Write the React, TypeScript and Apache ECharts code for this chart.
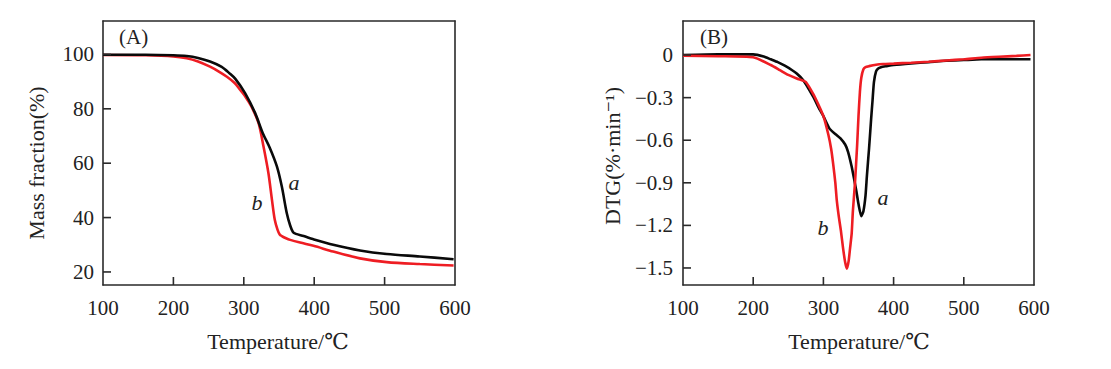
import React, { useEffect, useRef } from 'react';
import * as echarts from 'echarts';

// Panel A: TGA (mass fraction, %)
const tgaTempA = [100, 160, 200, 219, 235, 252, 268, 280, 288, 302, 316, 327, 337, 347, 354, 361, 366, 370, 374, 385, 398, 427, 465, 503, 550, 598];
const tgaMassA = [99.9, 99.9, 99.7, 99.4, 98.7, 97.4, 95.5, 93, 91, 85.7, 78.5, 71, 65.6, 58.8, 51.4, 41.7, 37, 34.6, 34.0, 33.2, 32.1, 30, 27.9, 26.6, 25.7, 24.7];
const tgaTempB = [100, 160, 200, 219, 235, 252, 264, 276, 287, 295, 303, 311, 321, 328, 335, 340, 344, 348, 351, 354, 360, 366, 380, 399, 427, 465, 503, 550, 598];
const tgaMassB = [99.8, 99.7, 99.3, 98.6, 97.4, 95.5, 93.8, 91.8, 89.5, 86.9, 84.2, 80.8, 74.7, 66.1, 56.3, 46.5, 39.2, 35.5, 33.8, 33.2, 32.4, 31.8, 30.8, 29.6, 27.5, 25, 23.6, 22.9, 22.4];

// Panel B: DTG (%·min⁻¹)
const dtgTempA = [100, 150, 200, 215, 225, 235, 245, 255, 262, 271, 285, 295, 300, 309, 318, 324, 331, 335, 340, 344, 347, 350, 354, 357, 360, 362, 365, 368, 370, 372, 375, 378, 382, 390, 400, 425, 450, 475, 500, 525, 550, 575, 595];
const dtgValA = [0, 0.005, 0.005, -0.01, -0.03, -0.05, -0.075, -0.105, -0.13, -0.176, -0.29, -0.387, -0.43, -0.52, -0.56, -0.585, -0.63, -0.68, -0.78, -0.88, -0.96, -1.05, -1.135, -1.10, -0.99, -0.85, -0.66, -0.45, -0.32, -0.19, -0.115, -0.095, -0.085, -0.078, -0.07, -0.059, -0.05, -0.04, -0.035, -0.03, -0.03, -0.03, -0.03];
const dtgTempB = [100, 150, 200, 225, 238, 250, 262, 271, 275, 285, 292, 300, 307, 311, 314, 317, 319, 322, 325, 328, 331, 333.5, 336, 338, 340.3, 342, 345, 348, 350, 352, 354, 357, 360, 365, 375, 385, 400, 425, 450, 475, 500, 525, 550, 575, 595];
const dtgValB = [-0.005, -0.008, -0.016, -0.07, -0.106, -0.14, -0.165, -0.18, -0.19, -0.27, -0.34, -0.43, -0.56, -0.66, -0.77, -0.9, -1.02, -1.14, -1.24, -1.36, -1.46, -1.505, -1.45, -1.36, -1.256, -1.1, -0.9, -0.64, -0.43, -0.26, -0.16, -0.1, -0.085, -0.078, -0.068, -0.063, -0.06, -0.054, -0.047, -0.038, -0.03, -0.019, -0.012, -0.006, 0.0];

const xTicks = [100, 200, 300, 400, 500, 600];
const tgaTicks = [20, 40, 60, 80, 100];
const dtgTicks = [-1.5, -1.2, -0.9, -0.6, -0.3, 0];

const X_MIN = 100;
const X_MAX = 600;
const TGA_MIN = 15.2;
const TGA_MAX = 112.3;
const DTG_MIN = -1.62;
const DTG_MAX = 0.24;

const FONT = "'Liberation Serif', 'Times New Roman', 'DejaVu Serif', serif";
const BLACK = '#0a0a0a';
const RED = '#ee1d23';
const FRAME = '#2a2a2a';
const TEXT = '#222222';
const TICK_PX = 8;

const GRID_A = { left: 103, top: 21, width: 352, height: 264 };
const GRID_B = { left: 683, top: 21, width: 351, height: 264 };

function pairs(xs: number[], ys: number[]) {
  return xs.map((x, i) => [x, ys[i]]);
}

function fmtDtg(v: number) {
  if (Math.abs(v) < 1e-9) return '0';
  return (v < 0 ? '\u2212' : '') + Math.abs(v).toFixed(1);
}

const lineOnly = { color: FRAME, width: 1.6 };

const textGraphics = [
  { type: 'text', left: 119, top: 26, style: { text: '(A)', fontSize: 21, fontFamily: FONT, fill: TEXT } },
  { type: 'text', left: 700, top: 26, style: { text: '(B)', fontSize: 21, fontFamily: FONT, fill: TEXT } },
  { type: 'text', x: 294, y: 182, style: { text: 'a', fontSize: 22, fontStyle: 'italic', fontFamily: FONT, fill: TEXT, align: 'center', verticalAlign: 'middle' } },
  { type: 'text', x: 257, y: 202, style: { text: 'b', fontSize: 22, fontStyle: 'italic', fontFamily: FONT, fill: TEXT, align: 'center', verticalAlign: 'middle' } },
  { type: 'text', x: 883, y: 197, style: { text: 'a', fontSize: 22, fontStyle: 'italic', fontFamily: FONT, fill: TEXT, align: 'center', verticalAlign: 'middle' } },
  { type: 'text', x: 823, y: 227, style: { text: 'b', fontSize: 22, fontStyle: 'italic', fontFamily: FONT, fill: TEXT, align: 'center', verticalAlign: 'middle' } },
  { type: 'text', x: 278, y: 341, style: { text: 'Temperature/\u2103', fontSize: 22, fontFamily: FONT, fill: TEXT, align: 'center', verticalAlign: 'middle' } },
  { type: 'text', x: 859, y: 341, style: { text: 'Temperature/\u2103', fontSize: 22, fontFamily: FONT, fill: TEXT, align: 'center', verticalAlign: 'middle' } },
  { type: 'text', x: 36, y: 163, rotation: Math.PI / 2, style: { text: 'Mass fraction(%)', fontSize: 22, fontFamily: FONT, fill: TEXT, align: 'center', verticalAlign: 'middle' } },
  { type: 'text', x: 612, y: 156, rotation: Math.PI / 2, style: { text: 'DTG(%\u00B7min\u207B\u00B9)', fontSize: 22, fontFamily: FONT, fill: TEXT, align: 'center', verticalAlign: 'middle' } },
];

export default function App() {
  const ref = useRef<HTMLDivElement>(null);
  useEffect(() => {
    if (!ref.current) return;
    const chart = echarts.init(ref.current, undefined, { renderer: 'svg' });
    const axisX = (gridIndex: number) => ({
      type: 'value',
      gridIndex,
      position: 'bottom',
      min: X_MIN,
      max: X_MAX,
      interval: 100,
      axisLine: { show: true, onZero: false, lineStyle: lineOnly },
      axisTick: { show: false },
      axisLabel: { show: true, margin: 12, fontSize: 21, fontFamily: FONT, color: TEXT },
      splitLine: { show: false },
    });
    const axisXTop = (gridIndex: number) => ({
      type: 'value',
      gridIndex,
      position: 'top',
      min: X_MIN,
      max: X_MAX,
      axisLine: { show: true, onZero: false, lineStyle: lineOnly },
      axisTick: { show: false },
      axisLabel: { show: false },
      splitLine: { show: false },
    });
    const axisY = (gridIndex: number, min: number, max: number, ticks: number[], fmt: any, margin: number) => ({
      type: 'value',
      gridIndex,
      position: 'left',
      min,
      max,
      axisLine: { show: true, onZero: false, lineStyle: lineOnly },
      axisTick: { show: false },
      axisLabel: { show: true, customValues: ticks, margin, fontSize: 21, fontFamily: FONT, color: TEXT, formatter: fmt },
      splitLine: { show: false },
    });
    const axisYRight = (gridIndex: number, min: number, max: number) => ({
      type: 'value',
      gridIndex,
      position: 'right',
      min,
      max,
      axisLine: { show: true, onZero: false, lineStyle: lineOnly },
      axisTick: { show: false },
      axisLabel: { show: false },
      splitLine: { show: false },
    });
    const option = {
      animation: false,
      backgroundColor: '#ffffff',
      grid: [
        { ...GRID_A, show: false },
        { ...GRID_B, show: false },
      ],
      xAxis: [axisX(0), axisX(1), axisXTop(0), axisXTop(1)],
      yAxis: [
        axisY(0, TGA_MIN, TGA_MAX, tgaTicks, (v: number) => String(v), 9),
        axisY(1, DTG_MIN, DTG_MAX, dtgTicks, (v: number) => fmtDtg(v), 10),
        axisYRight(0, TGA_MIN, TGA_MAX),
        axisYRight(1, DTG_MIN, DTG_MAX),
      ],
      series: [
        { type: 'line', xAxisIndex: 0, yAxisIndex: 0, data: pairs(tgaTempA, tgaMassA), showSymbol: false, smooth: 0.3, lineStyle: { color: BLACK, width: 2.6 }, z: 3 },
        { type: 'line', xAxisIndex: 0, yAxisIndex: 0, data: pairs(tgaTempB, tgaMassB), showSymbol: false, smooth: 0.3, lineStyle: { color: RED, width: 2.6 }, z: 2 },
        { type: 'line', xAxisIndex: 1, yAxisIndex: 1, data: pairs(dtgTempA, dtgValA), showSymbol: false, smooth: 0.2, lineStyle: { color: BLACK, width: 2.6 }, z: 2 },
        { type: 'line', xAxisIndex: 1, yAxisIndex: 1, data: pairs(dtgTempB, dtgValB), showSymbol: false, smooth: 0.2, lineStyle: { color: RED, width: 2.6 }, z: 3 },
      ],
      graphic: textGraphics,
    };
    chart.setOption(option as any);

    // inward tick marks: positions come from the axes' own scales via convertToPixel
    const ticks: any[] = [];
    const addTicks = (idx: number, yMin: number, yTicks: number[]) => {
      const yBottom = chart.convertToPixel({ yAxisIndex: idx } as any, yMin) as number;
      const xLeft = chart.convertToPixel({ xAxisIndex: idx } as any, X_MIN) as number;
      xTicks
        .filter((v) => v > X_MIN && v < X_MAX)
        .forEach((v) => {
          const px = chart.convertToPixel({ xAxisIndex: idx } as any, v) as number;
          ticks.push({ type: 'line', z: 50, shape: { x1: px, y1: yBottom, x2: px, y2: yBottom - TICK_PX }, style: { stroke: FRAME, lineWidth: 1.6 } });
        });
      yTicks.forEach((v) => {
        const py = chart.convertToPixel({ yAxisIndex: idx } as any, v) as number;
        ticks.push({ type: 'line', z: 50, shape: { x1: xLeft, y1: py, x2: xLeft + TICK_PX, y2: py }, style: { stroke: FRAME, lineWidth: 1.6 } });
      });
    };
    addTicks(0, TGA_MIN, tgaTicks);
    addTicks(1, DTG_MIN, dtgTicks);
    chart.setOption({ graphic: [...textGraphics, ...ticks] } as any);

    return () => chart.dispose();
  }, []);
  return <div ref={ref} style={{ position: 'absolute', left: 0, top: 0, width: 1111, height: 369, background: '#fff' }} />;
}
